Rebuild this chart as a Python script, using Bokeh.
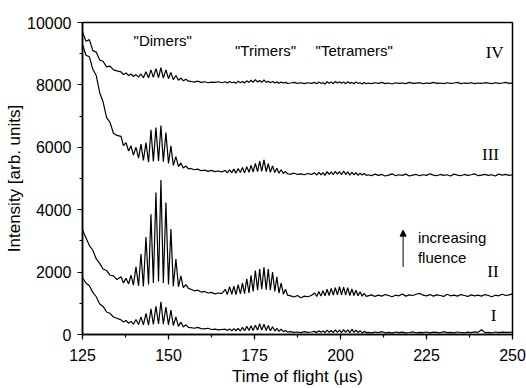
from bokeh.plotting import figure
from bokeh.models import Range1d, SingleIntervalTicker, Label, Arrow, NormalHead, ColumnDataSource
from bokeh.embed import file_html
from bokeh.resources import INLINE

# ---- time-of-flight grid (µs), per region ----
X_DECAY = [125, 126, 127, 128, 129, 130, 131, 132, 133, 134, 135]
X_DIMER = [136.2, 136.9, 137.65, 138.4, 139.1, 139.8, 140.55, 141.3, 142.0, 142.7,
           143.45, 144.2, 144.9, 145.6, 146.35, 147.1, 147.8, 148.5, 149.25, 150.0,
           150.7, 151.4, 152.15, 152.9, 153.6, 154.3, 155.05, 155.8]
X_GAP1 = [156.5, 157.5, 158.5, 159.5, 160.5, 161.5, 162.5, 163.5, 164.5, 165.5]
X_TRIMER = [166.5, 167.1, 167.75, 168.4, 169.0, 169.6, 170.25, 170.9, 171.5, 172.1,
            172.75, 173.4, 174.0, 174.6, 175.25, 175.9, 176.5, 177.1, 177.75, 178.4,
            179.0, 179.6, 180.25, 180.9, 181.5, 182.1, 182.75, 183.4, 184.0, 184.6]
X_GAP2 = [185.5, 186.5, 187.5, 188.5, 189.5, 190.5, 191.5]
X_TETRA = [192.5, 193.1, 193.7, 194.3, 194.9, 195.5, 196.1, 196.7, 197.3, 197.9,
           198.5, 199.1, 199.7, 200.3, 200.9, 201.5, 202.1, 202.7, 203.3, 203.9,
           204.5, 205.1, 205.7, 206.3, 206.9, 207.5]
X_TAIL = [208, 209, 210, 211, 212, 213, 214, 215, 216, 217, 218, 219, 220, 221, 222,
          223, 224, 225, 226, 227, 228, 229, 230, 231, 232, 233, 234, 235, 236, 237,
          238, 239, 240, 241, 242, 243, 244, 245, 246, 247, 248, 249, 250]

# ---- trace I ----
I_DECAY = [1820, 1650, 1560, 1350, 1210, 980, 900, 720, 680, 560, 520]
I_DIMER = [470, 400, 450, 360, 420, 330, 480, 320, 560, 310, 680, 300, 820, 320,
           900, 340, 1050, 330, 880, 310, 780, 290, 560, 260, 400, 240, 310, 230]
I_GAP1 = [220, 200, 230, 190, 180, 200, 160, 170, 150, 160]
I_TRIMER = [170, 130, 180, 120, 190, 120, 200, 110, 230, 120, 260, 130, 280, 130, 300,
            140, 350, 140, 330, 130, 290, 120, 250, 110, 200, 100, 170, 90, 130, 80]
I_GAP2 = [90, 70, 80, 60, 90, 70, 80]
I_TETRA = [100, 60, 120, 70, 110, 60, 140, 70, 130, 60, 150, 70, 140, 60, 160, 70,
           150, 60, 170, 70, 140, 60, 120, 50, 100, 60]
I_TAIL = [70, 50, 80, 60, 90, 55, 70, 45, 80, 60, 75, 50, 65, 85, 55, 70, 60, 80, 50, 75,
          65, 55, 90, 60, 70, 50, 80, 65, 55, 75, 60, 85, 70, 150, 60, 70, 55, 80, 60, 75,
          65, 70, 80]

# ---- trace II ----
II_DECAY = [3350, 3100, 2850, 2700, 2420, 2280, 2100, 2050, 1900, 1880, 1760]
II_DIMER = [1850, 1650, 1800, 1620, 1900, 1580, 2170, 1560, 2580, 1540, 3120, 1600,
            3850, 1650, 4550, 1700, 4950, 1650, 4230, 1600, 3380, 1550, 2420, 1530,
            1880, 1500, 1600, 1480]
II_GAP1 = [1450, 1400, 1420, 1360, 1380, 1330, 1350, 1300, 1330, 1310]
II_TRIMER = [1450, 1280, 1530, 1290, 1550, 1280, 1600, 1300, 1650, 1310, 1780, 1330,
             1900, 1380, 2050, 1420, 2100, 1450, 2150, 1440, 2100, 1420, 2000, 1380,
             1850, 1330, 1650, 1290, 1450, 1260]
II_GAP2 = [1240, 1200, 1250, 1180, 1230, 1210, 1250]
II_TETRA = [1330, 1220, 1380, 1230, 1400, 1240, 1450, 1250, 1480, 1260, 1500, 1270,
            1530, 1270, 1520, 1260, 1500, 1250, 1460, 1250, 1420, 1240, 1370, 1230,
            1320, 1220]
II_TAIL = [1240, 1270, 1220, 1260, 1230, 1280, 1250, 1210, 1260, 1240,
           1300, 1230, 1270, 1250, 1290, 1320, 1260, 1240, 1280, 1230,
           1270, 1250, 1220, 1290, 1240, 1260, 1230, 1280, 1250, 1220,
           1270, 1240, 1260, 1230, 1280, 1250, 1210, 1260, 1240, 1290,
           1250, 1270, 1300]

# ---- trace III ----
III_DECAY = [9300, 8950, 8900, 8500, 8300, 7750, 7450, 6950, 6800, 6450, 6380]
III_DIMER = [6350, 6050, 6150, 5880, 6050, 5750, 6000, 5650, 6100, 5580, 6150, 5520,
             6560, 5550, 6630, 5560, 6700, 5540, 6470, 5480, 6050, 5420, 5700, 5380,
             5500, 5340, 5400, 5310]
III_GAP1 = [5320, 5280, 5300, 5250, 5270, 5230, 5260, 5220, 5240, 5210]
III_TRIMER = [5260, 5180, 5280, 5190, 5300, 5170, 5320, 5190, 5350, 5180, 5380, 5200,
              5420, 5210, 5480, 5220, 5560, 5230, 5600, 5220, 5480, 5200, 5400, 5190,
              5330, 5170, 5280, 5160, 5230, 5150]
III_GAP2 = [5140, 5170, 5130, 5150, 5120, 5160, 5130]
III_TETRA = [5180, 5110, 5200, 5120, 5190, 5100, 5220, 5130, 5210, 5120, 5230, 5140,
             5220, 5120, 5240, 5130, 5210, 5110, 5200, 5120, 5190, 5100, 5170, 5110,
             5160, 5100]
III_TAIL = [5120, 5090, 5140, 5100, 5130, 5080, 5110, 5150, 5090, 5120,
            5100, 5140, 5080, 5110, 5130, 5090, 5120, 5100, 5150, 5110,
            5090, 5130, 5100, 5120, 5080, 5140, 5110, 5090, 5130, 5100,
            5120, 5150, 5090, 5110, 5130, 5100, 5120, 5080, 5140, 5110,
            5130, 5100, 5120]

# ---- trace IV ----
IV_DECAY = [9700, 9400, 9450, 9100, 9050, 8800, 8750, 8580, 8600, 8480, 8450]
IV_DIMER = [8420, 8330, 8380, 8300, 8350, 8270, 8330, 8250, 8350, 8230, 8420, 8230,
            8480, 8240, 8520, 8230, 8550, 8220, 8480, 8200, 8400, 8170, 8300, 8150,
            8220, 8130, 8180, 8120]
IV_GAP1 = [8110, 8090, 8120, 8080, 8100, 8070, 8090, 8080, 8100, 8070]
IV_TRIMER = [8100, 8060, 8110, 8070, 8090, 8050, 8120, 8070, 8110, 8060, 8130, 8080,
             8150, 8080, 8170, 8090, 8140, 8080, 8160, 8080, 8120, 8070, 8110, 8060,
             8100, 8050, 8090, 8060, 8080, 8050]
IV_GAP2 = [8060, 8080, 8050, 8070, 8040, 8070, 8050]
IV_TETRA = [8080, 8040, 8090, 8050, 8070, 8030, 8100, 8050, 8090, 8040, 8110, 8060,
            8100, 8050, 8090, 8040, 8100, 8050, 8080, 8040, 8090, 8050, 8070, 8030,
            8080, 8040]
IV_TAIL = [8060, 8040, 8070, 8050, 8080, 8040, 8060, 8030, 8070, 8050,
           8060, 8040, 8080, 8050, 8060, 8070, 8040, 8060, 8050, 8080,
           8050, 8060, 8040, 8070, 8050, 8060, 8080, 8040, 8060, 8050,
           8070, 8040, 8060, 8050, 8070, 8060, 8040, 8070, 8050, 8060,
           8080, 8050, 8060]

TRACE_LABELS = ["I", "II", "III", "IV"]
LABEL_X = [244.5, 244.3, 243.6, 244.8]
LABEL_Y = [620, 2010, 5770, 9050]
PEAK_NAMES = ['"Dimers"', '"Trimers"', '"Tetramers"']
PEAK_X = [148.3, 178.2, 204.0]
PEAK_Y = [9430, 9110, 9110]

X = X_DECAY + X_DIMER + X_GAP1 + X_TRIMER + X_GAP2 + X_TETRA + X_TAIL
traces = [
    I_DECAY + I_DIMER + I_GAP1 + I_TRIMER + I_GAP2 + I_TETRA + I_TAIL,
    II_DECAY + II_DIMER + II_GAP1 + II_TRIMER + II_GAP2 + II_TETRA + II_TAIL,
    III_DECAY + III_DIMER + III_GAP1 + III_TRIMER + III_GAP2 + III_TETRA + III_TAIL,
    IV_DECAY + IV_DIMER + IV_GAP1 + IV_TRIMER + IV_GAP2 + IV_TETRA + IV_TAIL,
]
for t in traces:
    assert len(t) == len(X), (len(t), len(X))

p = figure(width=526, height=388, x_range=Range1d(125, 250), y_range=Range1d(0, 10000),
           output_backend="svg", toolbar_location=None,
           min_border_left=82, min_border_right=14, min_border_top=22, min_border_bottom=52)
p.background_fill_color = "white"
p.border_fill_color = "white"
p.xgrid.visible = False
p.ygrid.visible = False
p.outline_line_color = "black"
p.outline_line_width = 1.5
p.outline_line_alpha = 1.0

p.xaxis.ticker = SingleIntervalTicker(interval=25, num_minor_ticks=2)
p.yaxis.ticker = SingleIntervalTicker(interval=2000, num_minor_ticks=2)
for ax in (p.xaxis, p.yaxis):
    ax.axis_line_color = "black"
    ax.axis_line_width = 1.5
    ax.major_tick_line_color = "black"
    ax.minor_tick_line_color = "black"
    ax.major_tick_line_width = 1.2
    ax.minor_tick_line_width = 1.2
    ax.major_tick_in = 0
    ax.major_tick_out = 5
    ax.minor_tick_in = 0
    ax.minor_tick_out = 3
    ax.major_label_text_font = "Liberation Sans"
    ax.major_label_text_font_size = "16px"
    ax.major_label_text_color = "black"
    ax.axis_label_text_font = "Liberation Sans"
    ax.axis_label_text_font_size = "17px"
    ax.axis_label_text_font_style = "normal"
    ax.axis_label_text_color = "black"
p.xaxis.axis_label = "Time of flight (µs)"
p.yaxis.axis_label = "Intensity [arb. units]"
p.xaxis.major_label_standoff = 9
p.xaxis.axis_label_standoff = 3
p.yaxis.major_label_standoff = 6
p.yaxis.axis_label_standoff = 0

for t in traces:
    src = ColumnDataSource(dict(x=X, y=t))
    p.line("x", "y", source=src, line_color="black", line_width=1.2)

for name, lx, ly in zip(PEAK_NAMES, PEAK_X, PEAK_Y):
    p.add_layout(Label(x=lx, y=ly, text=name, text_align="center", text_baseline="middle",
                       text_font="Liberation Sans", text_font_size="15px", text_color="black"))

for name, lx, ly in zip(TRACE_LABELS, LABEL_X, LABEL_Y):
    p.add_layout(Label(x=lx, y=ly, text=name, text_align="center", text_baseline="middle",
                       text_font="Liberation Serif", text_font_size="17px", text_color="black"))

p.add_layout(Arrow(end=NormalHead(size=6, fill_color="black", line_color="black", line_width=1),
                   x_start=218.2, y_start=2165, x_end=218.2, y_end=3345,
                   line_color="black", line_width=1))
p.add_layout(Label(x=222.5, y=3120, text="increasing", text_align="left",
                   text_baseline="alphabetic", text_font="Liberation Sans",
                   text_font_size="15px", text_color="black"))
p.add_layout(Label(x=222.5, y=2480, text="fluence", text_align="left",
                   text_baseline="alphabetic", text_font="Liberation Sans",
                   text_font_size="15px", text_color="black"))

open("out.html", "w").write(file_html(p, INLINE))
